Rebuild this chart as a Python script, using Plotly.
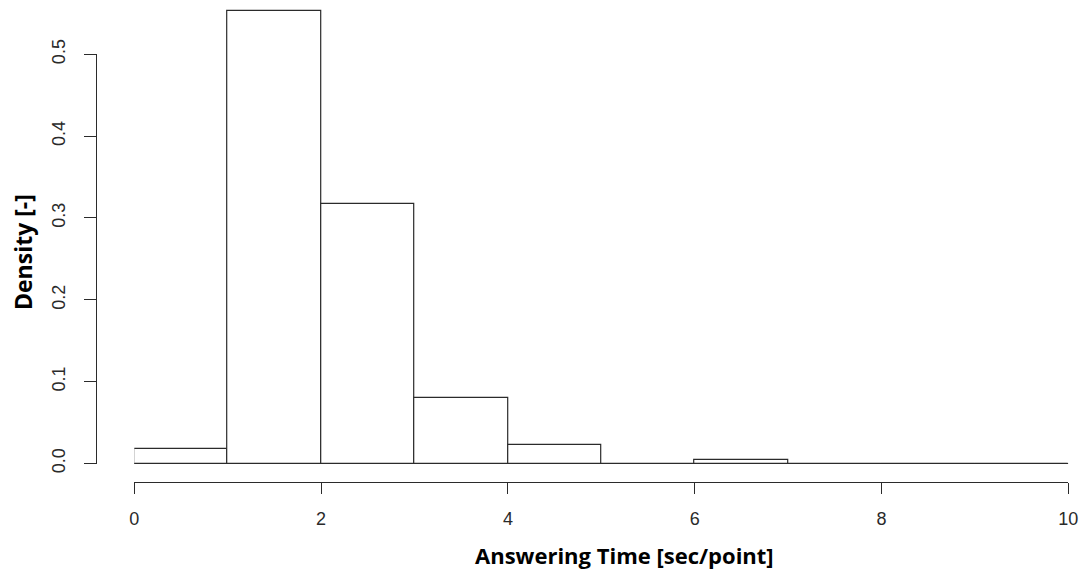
import plotly.graph_objects as go

# Data: histogram bins (width 1) and densities
bin_edges = [0, 1, 2, 3, 4, 5, 6, 7, 8, 9, 10]
densities = [0.0175, 0.5525, 0.317, 0.0795, 0.0222, 0.0, 0.0040, 0.0, 0.0, 0.0]
x_ticks = [0, 2, 4, 6, 8, 10]
y_ticks = [0.0, 0.1, 0.2, 0.3, 0.4, 0.5]
x_title = "Answering Time [sec/point]"
y_title = "Density [-]"

W, H = 1085, 578
centers = [(a + b) / 2 for a, b in zip(bin_edges[:-1], bin_edges[1:])]
widths = [b - a for a, b in zip(bin_edges[:-1], bin_edges[1:])]

LINE = "#2b2b2b"
TICKFONT = dict(family="Liberation Sans, Arial, sans-serif", size=18, color="#2a2a2a")
XTITLEFONT = dict(family="Open Sans, sans-serif", size=22, color="#000000")
YTITLEFONT = dict(family="Open Sans, sans-serif", size=23, color="#000000")

fig = go.Figure()

# baseline through all bins (zero-height bins in R draw a line at 0)
fig.add_trace(go.Scatter(
    x=bin_edges, y=[0] * len(bin_edges), mode="lines",
    line=dict(color=LINE, width=1.2), hoverinfo="skip", showlegend=False,
    cliponaxis=False, xaxis="x", yaxis="y"))

fig.add_trace(go.Bar(
    x=centers, y=densities, width=widths,
    marker=dict(color="white", line=dict(color=LINE, width=1.2)),
    showlegend=False, cliponaxis=False, xaxis="x", yaxis="y"))

# invisible trace so the free tick axis is drawn
fig.add_trace(go.Scatter(x=[None], y=[None], mode="markers", showlegend=False,
                         hoverinfo="skip", xaxis="x", yaxis="y2"))

x_left_px, x_right_px = 134.3, 1068.3
y0_px, y05_px = 463.5, 54.3
px_per_unit = (y0_px - y05_px) / 0.5
axis_bottom_px = 482.3
y_lo = -(axis_bottom_px - y0_px) / px_per_unit
y_hi = y0_px / px_per_unit

fig.update_layout(
    template="none",
    width=W, height=H,
    margin=dict(l=0, r=0, t=0, b=0, pad=0),
    paper_bgcolor="white", plot_bgcolor="rgba(0,0,0,0)",
    bargap=0,
    xaxis=dict(
        domain=[x_left_px / W, x_right_px / W], range=[bin_edges[0], bin_edges[-1]],
        anchor="y", side="bottom", automargin=False,
        showline=True, linecolor=LINE, linewidth=1.2,
        ticks="outside", ticklen=11, tickwidth=1.2, tickcolor=LINE,
        tickvals=x_ticks, ticktext=[str(v) for v in x_ticks],
        tickfont=TICKFONT, ticklabelstandoff=9,
        showgrid=False, zeroline=False, fixedrange=True),
    yaxis=dict(
        domain=[1 - axis_bottom_px / H, 1], range=[y_lo, y_hi], automargin=False,
        visible=False, showgrid=False, zeroline=False, fixedrange=True),
    yaxis2=dict(
        domain=[1 - y0_px / H, 1 - y05_px / H], range=[0, 0.5],
        anchor="free", position=96 / W, side="left", automargin=False,
        showline=True, linecolor=LINE, linewidth=1.2,
        ticks="outside", ticklen=12, tickwidth=1.2, tickcolor=LINE,
        tickvals=y_ticks, ticktext=[f"{v:.1f}" for v in y_ticks],
        tickangle=-90, tickfont=TICKFONT, ticklabelstandoff=12,
        showgrid=False, zeroline=False, fixedrange=True),
    annotations=[
        dict(text=f"<b>{x_title}</b>", x=624.5 / W, y=1 - 555 / H, xref="paper", yref="paper",
             xanchor="center", yanchor="middle", showarrow=False, font=XTITLEFONT),
        dict(text=f"<b>{y_title}</b>", x=23 / W, y=1 - 252 / H, xref="paper", yref="paper",
             xanchor="center", yanchor="middle", showarrow=False, textangle=-90, font=YTITLEFONT),
    ],
)

fig.write_html("out.html")
